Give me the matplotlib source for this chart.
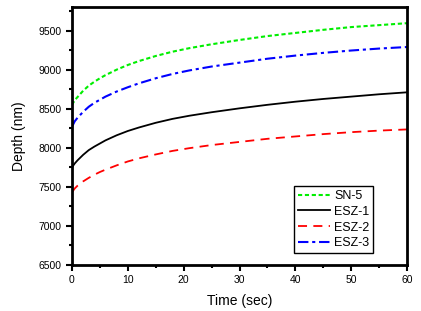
import numpy as np
import matplotlib.pyplot as plt
from matplotlib.ticker import MultipleLocator

# values
time_sec = [0, 0.5, 1, 2, 3, 4, 5, 6, 8, 10, 12, 15, 18, 21, 25, 30, 35, 40, 45, 50, 55, 60]
sn5 = [8550, 8610, 8650, 8730, 8795, 8845, 8890, 8930, 9000, 9060, 9110, 9175, 9230, 9275,
       9325, 9380, 9430, 9470, 9510, 9545, 9570, 9595]
esz1 = [7750, 7800, 7840, 7910, 7970, 8015, 8055, 8095, 8160, 8215, 8260, 8320, 8370, 8410,
        8455, 8505, 8550, 8590, 8625, 8655, 8685, 8710]
esz2 = [7430, 7480, 7515, 7570, 7615, 7655, 7690, 7720, 7775, 7825, 7865, 7915, 7960, 7995,
        8035, 8075, 8115, 8145, 8175, 8200, 8220, 8235]
esz3 = [8270, 8340, 8385, 8460, 8525, 8575, 8615, 8655, 8720, 8775, 8825, 8890, 8945, 8990,
        9040, 9090, 9140, 9180, 9215, 9245, 9270, 9290]

plt.rcParams['font.family'] = ['Liberation Sans', 'DejaVu Sans']

fig = plt.figure(figsize=(4.21, 3.11), dpi=100)
ax = fig.add_axes([0.171, 0.148, 0.796, 0.829])

ax.plot(time_sec, sn5, color='#00ee00', lw=1.5, linestyle=(0, (2, 1.3)), label='SN-5')
ax.plot(time_sec, esz1, color='black', lw=1.3, label='ESZ-1')
ax.plot(time_sec, esz2, color='#ff0000', lw=1.3, linestyle=(0, (5, 3.5)), label='ESZ-2')
ax.plot(time_sec, esz3, color='#0000ff', lw=1.5, linestyle=(0, (5, 1.8, 1.5, 1.8)), label='ESZ-3')

ax.set_xlim(0, 60)
ax.set_ylim(6500, 9800)
ax.xaxis.set_major_locator(MultipleLocator(10))
ax.xaxis.set_minor_locator(MultipleLocator(5))
ax.yaxis.set_major_locator(MultipleLocator(500))
ax.yaxis.set_minor_locator(MultipleLocator(250))
ax.tick_params(which='both', direction='out', width=1.5, labelsize=7.5, top=False, right=False)
ax.tick_params(which='major', length=4)
ax.tick_params(which='minor', length=2.5)
for s in ax.spines.values():
    s.set_linewidth(2)

ax.set_xlabel('Time (sec)', fontsize=10, labelpad=6)
ax.set_ylabel('Depth (nm)', fontsize=10, labelpad=9)

leg = ax.legend(loc='lower right', bbox_to_anchor=(0.898, 0.046), fontsize=9,
                frameon=True, fancybox=False, edgecolor='black', framealpha=1,
                handlelength=2.6, handletextpad=0.3, borderpad=0.3, labelspacing=0.3,
                borderaxespad=0)
leg.get_frame().set_linewidth(1)

fig.savefig('out.png', dpi=100)
